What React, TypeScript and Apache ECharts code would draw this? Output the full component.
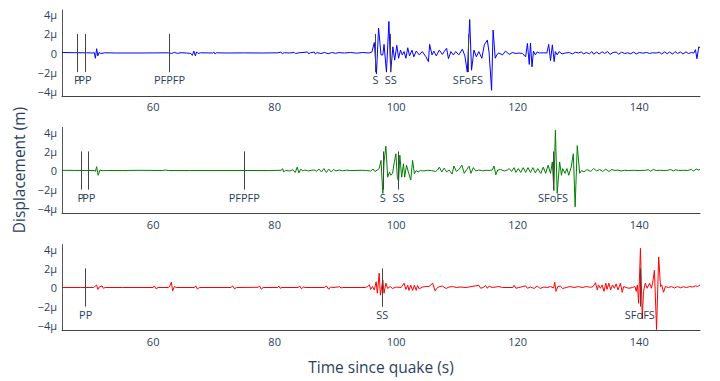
import React, { useEffect, useRef } from "react";
import * as echarts from "echarts";

// ---- data (time in s, displacement in µm) ----
const X_TICKS = [60, 80, 100, 120, 140];
const Y_TICKS = [-4, -2, 0, 2, 4];

const TOP_TRACE: [number, number][] = [
  [45, 0.05], [47, 0.03], [49, 0.02], [50.1, 0.0], [50.3, 0.05], [50.5, -0.55], [50.7, 0.45], [50.9, -0.3], [51.1, 0.05], [51.4, -0.05],
  [52, 0.02], [54, 0.0], [58, 0.0], [62.5, 0.02], [63, -0.05], [63.5, 0.06], [64, -0.04], [64.6, 0.03], [65.5, 0.0], [66.2, -0.05],
  [66.45, -0.25], [66.7, 0.2], [66.95, -0.3], [67.15, 0.12], [67.4, -0.05], [67.8, 0.02], [69.8, 0.0], [70.0, 0.1], [70.2, -0.1], [70.4, 0.02],
  [72, 0.0], [75, 0.01], [78, 0.0], [80.5, 0.02], [81.0, 0.08], [81.3, -0.05], [81.6, 0.03], [82.5, 0.0], [83.2, 0.07], [83.4, -0.06],
  [84, 0.02], [85.4, 0.1], [85.6, -0.08], [85.9, 0.03], [86.5, 0.1], [86.7, -0.1], [87, 0.05], [87.6, -0.06], [88.2, 0.06], [88.8, -0.08],
  [89.4, 0.05], [90, -0.03], [90.6, 0.04], [91.5, 0], [92.5, 0.05], [93.5, -0.02], [94.5, 0.05], [95.5, 0.0], [96.0, 0.1], [96.4, 1.1],
  [96.75, -2.2], [97.1, 2.6], [97.5, -0.2], [97.8, -0.2], [98.0, 0.9], [98.4, -2.0], [98.8, 3.3], [99.1, -2.0], [99.45, 0.65], [99.75, -0.75],
  [100.1, 0.8], [100.4, -0.55], [100.7, 0.3], [101.0, -0.2], [101.3, 0.15], [101.6, -0.55], [101.9, 0.55], [102.2, -0.3], [102.6, 0.3], [102.9, -0.4],
  [103.3, 0.2], [103.8, -0.2], [104.3, 0.15], [104.9, -0.4], [105.3, -0.9], [105.5, 0.9], [105.9, -0.2], [106.2, 0.2], [106.6, -0.3], [107.1, 0.3],
  [107.6, -0.15], [107.9, 0.15], [108.3, 0.5], [108.6, -0.6], [109.0, 0.15], [109.4, -0.2], [109.8, 0.15], [110.3, -0.2], [110.9, 0.4], [111.3, -0.3],
  [111.7, -2.0], [112.1, 3.5], [112.4, -1.8], [112.8, 0.3], [113.2, -0.4], [113.6, 0.15], [114.1, -0.55], [114.5, 0.85], [115.0, 1.35], [115.3, 0.0],
  [115.7, -3.9], [115.95, 2.4], [116.3, -0.55], [116.6, -0.15], [116.9, 0.0], [117.5, -0.2], [118.0, 0.2], [118.6, -0.15], [119.1, 0.05], [119.7, -0.05],
  [120.2, 0.0], [120.8, -0.05], [121.3, -0.4], [121.6, 1.0], [121.9, -1.2], [122.1, 1.05], [122.35, -1.45], [122.6, 0.2], [122.9, -0.2], [123.2, 0.1],
  [123.6, 0.0], [124.2, 0.02], [124.8, 0.0], [125.1, 0.9], [125.4, -0.8], [125.7, 0.85], [126.0, -0.9], [126.2, 0.15], [126.5, -0.2], [126.8, 0.15],
  [127.3, -0.1], [127.8, 0.0], [128.5, 0.05], [129.0, -0.1], [129.5, 0.08], [130.0, 0.0], [130.5, 0.12], [130.8, -0.1], [131.3, 0.05], [131.8, -0.08],
  [132.2, 0.15], [132.5, -0.12], [133.0, 0.1], [133.4, -0.1], [133.9, 0.12], [134.3, -0.05], [134.8, 0.15], [135.2, -0.15], [135.7, 0.05], [136.2, 0.1],
  [136.6, -0.12], [137.1, 0.08], [137.6, -0.05], [138.1, 0.02], [138.6, -0.08], [139.1, 0.1], [139.5, -0.1], [140.0, 0.05], [140.6, -0.02], [141.2, 0.06],
  [141.7, -0.05], [142.2, 0.02], [142.8, 0.0], [143.3, 0.08], [143.7, -0.1], [144.2, 0.12], [144.6, -0.08], [145.0, 0.1], [145.5, -0.12], [145.9, 0.15],
  [146.3, -0.05], [146.8, 0.1], [147.2, -0.1], [147.7, 0.12], [148.1, -0.06], [148.6, 0.05], [149.0, 0.0], [149.25, 0.35], [149.5, -0.6], [149.8, 0.65],
  [150, 0.55],
];

const MID_TRACE: [number, number][] = [
  [45, 0.02], [47, 0.01], [49, 0.0], [50.3, 0.0], [50.5, -0.1], [50.7, 0.4], [50.95, -0.5], [51.25, 0.05], [51.6, -0.02], [52.5, 0.0],
  [55, 0.0], [58, 0.02], [61.5, 0.0], [62.1, 0.05], [62.5, 0.0], [66, 0.0], [70, 0.0], [75, 0.0], [79, 0.0], [81.1, 0.02],
  [81.3, 0.2], [81.5, -0.15], [81.8, 0.02], [82.5, -0.05], [83.0, 0.08], [83.4, -0.2], [83.7, 0.35], [84.0, -0.25], [84.3, 0.15], [84.6, -0.05],
  [85.0, 0.05], [85.5, -0.05], [86.0, 0.02], [86.5, 0.05], [86.9, -0.08], [87.3, 0.15], [87.7, -0.15], [88.1, 0.2], [88.5, -0.2], [88.9, 0.15],
  [89.3, -0.15], [89.7, 0.1], [90.1, -0.05], [90.6, 0.05], [91.2, -0.03], [91.8, 0.03], [92.5, 0.0], [94.5, 0.02], [95.0, 0.0], [95.8, -0.05],
  [96.2, 0.15], [96.5, -0.1], [96.9, 0.05], [97.2, 0.2], [97.5, 1.05], [97.8, -2.4], [98.0, 0.9], [98.3, 2.55], [98.6, -0.7], [98.9, -0.15],
  [99.1, -0.5], [99.4, -0.3], [99.7, 0.9], [99.95, 1.75], [100.2, -0.85], [100.4, -1.1], [100.6, 1.6], [100.9, -0.7], [101.2, 0.7], [101.4, -0.7],
  [101.7, 0.55], [102.0, -0.15], [102.4, -1.0], [102.7, 1.05], [103.0, -0.35], [103.3, 0.0], [103.6, -0.15], [104.0, 0.0], [104.5, -0.05], [105.2, 0.02],
  [105.8, 0.0], [106.5, -0.1], [106.8, 0.05], [107.1, 0.35], [107.5, -0.15], [107.9, 0.25], [108.3, -0.15], [108.7, 0.05], [109.2, -0.37], [109.5, 0.47],
  [109.9, -0.1], [110.4, 0.15], [110.8, 0.58], [111.2, -0.3], [111.6, 0.1], [112.0, 0.45], [112.3, -0.3], [112.7, 0.3], [113.1, -0.05], [113.6, 0.05],
  [114.2, -0.03], [114.8, 0.02], [115.3, 0.0], [115.8, 0.05], [116.1, 0.47], [116.4, -0.45], [116.7, 0.05], [117.2, 0.1], [117.8, -0.05], [118.3, 0.05],
  [118.6, 0.2], [119.0, -0.1], [119.4, 0.3], [119.7, -0.2], [120.1, 0.2], [120.5, -0.2], [120.9, 0.3], [121.3, -0.2], [121.7, 0.3], [122.1, -0.2],
  [122.5, 0.3], [122.9, -0.25], [123.3, 0.2], [123.8, -0.3], [124.2, 0.35], [124.6, -0.3], [125.0, 0.55], [125.4, -0.3], [125.7, 0.9], [125.95, -2.1],
  [126.2, 4.2], [126.5, -2.4], [126.9, 0.9], [127.2, -0.5], [127.4, 0.2], [127.8, -0.3], [128.1, 0.2], [128.4, -0.5], [128.8, 0.35], [129.15, 1.75],
  [129.45, -3.8], [129.8, 2.6], [130.2, -0.3], [130.5, 0.0], [130.9, -0.15], [131.4, 0.1], [132.0, -0.1], [132.5, 0.2], [133.0, -0.05], [133.5, 0.1],
  [134.0, -0.1], [134.5, 0.15], [135.0, -0.1], [135.5, 0.1], [136.0, 0.0], [136.5, 0.05], [137.0, -0.05], [137.6, 0.02], [138.2, 0.0], [139.0, 0.02],
  [140.0, 0.0], [141.0, 0.02], [141.5, 0.08], [141.9, -0.08], [142.3, 0.1], [142.8, 0.0], [143.5, 0.02], [144.5, 0.0], [145.2, 0.1], [145.6, -0.05],
  [146.0, 0.08], [146.5, 0.0], [147.3, 0.02], [148.0, 0.0], [148.6, 0.12], [148.9, -0.05], [149.4, 0.15], [149.7, 0.05], [150, 0.1],
];

const BOT_TRACE: [number, number][] = [
  [45, 0.0], [48, 0.0], [50.2, 0.0], [50.4, 0.1], [50.7, 0.27], [50.9, -0.2], [51.1, 0.03], [51.6, 0.17], [51.8, -0.08], [52.1, 0.0],
  [55, 0.0], [58, 0.0], [60.0, 0.0], [60.2, 0.17], [60.5, -0.15], [60.8, 0.0], [62.5, 0.0], [62.7, 0.1], [63.0, 0.55], [63.2, -0.35],
  [63.5, 0.1], [63.8, 0.0], [66.8, 0.0], [67.0, 0.17], [67.3, -0.17], [67.6, 0.0], [72.8, 0.0], [73.1, 0.17], [73.4, -0.15], [73.7, 0.0],
  [77.3, 0.02], [77.5, 0.17], [77.8, -0.18], [78.1, 0.0], [80.5, 0.0], [80.7, 0.15], [80.9, -0.08], [81.2, 0.0], [83.9, 0.0], [84.1, 0.17],
  [84.4, -0.14], [84.7, 0.05], [85.0, 0.0], [88.2, 0.0], [88.5, 0.17], [88.9, -0.18], [89.2, 0.05], [89.6, 0.0], [90.7, 0.08], [90.9, -0.05],
  [91.2, 0.0], [94.9, 0.0], [95.3, 0.1], [95.6, 0.27], [95.8, -0.2], [96.1, 0.1], [96.4, -0.25], [96.7, 0.6], [96.9, -0.6], [97.2, 1.5],
  [97.4, -0.8], [97.8, 0.8], [98.0, -0.6], [98.3, 0.45], [98.6, -0.1], [99.0, 0.1], [99.4, -0.1], [100.0, 0.05], [100.8, 0.0], [101.3, 0.45],
  [101.6, -0.2], [101.9, 0.25], [102.1, -0.3], [102.4, 0.25], [102.7, -0.3], [103.0, 0.25], [103.3, -0.3], [103.5, 0.2], [103.8, -0.15], [104.3, 0.05],
  [104.8, 0.1], [105.4, 0.1], [106.0, 0.45], [106.4, -0.35], [106.8, 0.0], [107.2, 0.1], [107.6, 0.15], [108.2, -0.1], [108.7, 0.05], [109.3, 0.1],
  [109.9, 0.0], [110.5, 0.05], [111.5, 0.0], [113.6, 0.23], [113.9, -0.08], [114.3, 0.0], [114.7, 0.2], [115.0, -0.08], [115.3, 0.15], [115.8, 0.0],
  [116.9, 0.1], [117.5, 0.0], [119.2, 0.0], [119.4, 0.23], [119.7, -0.08], [120.2, 0.0], [121.3, 0.17], [121.6, -0.08], [122.1, 0.05], [122.7, -0.1],
  [123.2, 0.15], [123.7, -0.1], [124.3, 0.05], [124.8, 0.0], [125.4, 0.1], [125.9, -0.05], [126.1, 0.55], [126.3, -0.4], [126.6, 0.1], [127.0, 0.15],
  [127.4, -0.1], [128.0, 0.0], [128.6, 0.1], [129.3, 0.0], [130.0, 0.1], [130.6, 0.0], [131.3, 0.1], [132.0, 0.02], [132.4, 0.1], [132.8, 0.5],
  [133.1, -0.25], [133.3, 0.27], [133.6, -0.08], [133.9, 0.27], [134.2, -0.4], [134.5, 0.45], [134.7, -0.2], [135.0, 0.45], [135.3, -0.25], [135.6, 0.27],
  [135.9, -0.08], [136.2, 0.38], [136.5, -0.25], [136.9, 0.45], [137.2, -0.5], [137.45, 0.1], [137.8, 0.0], [138.3, -0.08], [138.9, 0.0], [139.3, 0.1],
  [139.5, -0.4], [139.7, 0.27], [139.9, -1.65], [140.2, 4.1], [140.5, -3.3], [140.7, -0.4], [141.0, 0.45], [141.3, -0.08], [141.7, 0.45], [142.0, -0.08],
  [142.2, 0.45], [142.5, 1.8], [142.85, -4.4], [143.2, 3.2], [143.5, 0.1], [143.7, 0.27], [144.0, -0.5], [144.3, 0.1], [144.8, 0.0], [145.3, 0.1],
  [145.8, -0.05], [146.3, 0.1], [146.8, -0.03], [147.3, 0.08], [147.8, 0.0], [148.3, 0.1], [148.8, 0.05], [149.3, 0.17], [149.6, 0.1], [150, 0.27],
];

const TOP_PHASES: [string, number][] = [["P", 47.5], ["PP", 48.8], ["PFPFP", 62.7], ["S", 96.6], ["SS", 99.1], ["SFoFS", 111.8]];
const MID_PHASES: [string, number][] = [["P", 48.1], ["PP", 49.4], ["PFPFP", 75.0], ["S", 97.8], ["SS", 100.4], ["SFoFS", 125.8]];
const BOT_PHASES: [string, number][] = [["PP", 48.9], ["SS", 97.7], ["SFoFS", 140.1]];

const TRACE_COLORS = ["#0000ff", "#008000", "#ff0000"];

const TEXT = "#2a3f5f";
const FONT = "Open Sans";

export default function App() {
  const ref = useRef<HTMLDivElement>(null);
  useEffect(() => {
    if (!ref.current) return;
    const chart = echarts.init(ref.current, null, { renderer: "svg" });
    const traces = [TOP_TRACE, MID_TRACE, BOT_TRACE];
    const phases = [TOP_PHASES, MID_PHASES, BOT_PHASES];
    const tops = [10, 127.5, 244.5];
    const grids = tops.map((t) => ({ left: 62, top: t, width: 638, height: 86, containLabel: false }));
    const xAxes = tops.map((_, i) => ({
      type: "value",
      gridIndex: i,
      min: 45,
      max: 150,
      axisLine: { show: true, onZero: false, lineStyle: { color: "#444", width: 1 } },
      axisTick: { show: false },
      splitLine: { show: false },
      axisLabel: {
        customValues: X_TICKS,
        color: TEXT,
        fontSize: 11,
        fontFamily: FONT,
        margin: 5,
      },
    }));
    const yAxes = tops.map((_, i) => ({
      type: "value",
      gridIndex: i,
      min: -4.5,
      max: 4.5,
      axisLine: { show: true, onZero: false, lineStyle: { color: "#555", width: 1 } },
      axisTick: { show: false },
      splitLine: { show: false },
      axisLabel: {
        customValues: Y_TICKS,
        color: TEXT,
        fontSize: 11,
        fontFamily: FONT,
        margin: 5,
        formatter: (v: number) => (v === 0 ? "0" : (v < 0 ? "\u2212" + -v : String(v)) + "µ"),
      },
    }));
    const series = traces.map((tr, i) => ({
      type: "line",
      xAxisIndex: i,
      yAxisIndex: i,
      data: tr,
      showSymbol: false,
      symbol: "none",
      lineStyle: { width: 1, color: TRACE_COLORS[i] },
      itemStyle: { color: TRACE_COLORS[i] },
      silent: true,
      markLine: {
        silent: true,
        symbol: ["none", "none"],
        animation: false,
        lineStyle: { color: "#444", width: 1, type: "solid" },
        emphasis: { disabled: true },
        label: {
          show: true,
          position: "end",
          distance: 2,
          formatter: "{b}",
          color: TEXT,
          fontSize: 11,
          fontFamily: FONT,
        },
        data: phases[i].map(([n, t]) => [
          { coord: [t, 2], name: n },
          { coord: [t, -2] },
        ]),
      },
    }));
    chart.setOption({
      animation: false,
      backgroundColor: "#ffffff",
      grid: grids,
      xAxis: xAxes,
      yAxis: yAxes,
      series,
      graphic: [
        {
          type: "text",
          x: 381,
          y: 367,
          style: {
            text: "Time since quake (s)",
            fill: TEXT,
            fontSize: 15.5,
            fontFamily: FONT,
            textAlign: "center",
            textVerticalAlign: "middle",
          },
        },
        {
          type: "text",
          x: 19,
          y: 170,
          rotation: Math.PI / 2,
          style: {
            text: "Displacement (m)",
            fill: TEXT,
            fontSize: 15.5,
            fontFamily: FONT,
            textAlign: "center",
            textVerticalAlign: "middle",
          },
        },
      ],
    });
    return () => chart.dispose();
  }, []);
  return (
    <div
      ref={ref}
      style={{ position: "fixed", left: 0, top: 0, width: 720, height: 381, background: "#fff" }}
    />
  );
}
